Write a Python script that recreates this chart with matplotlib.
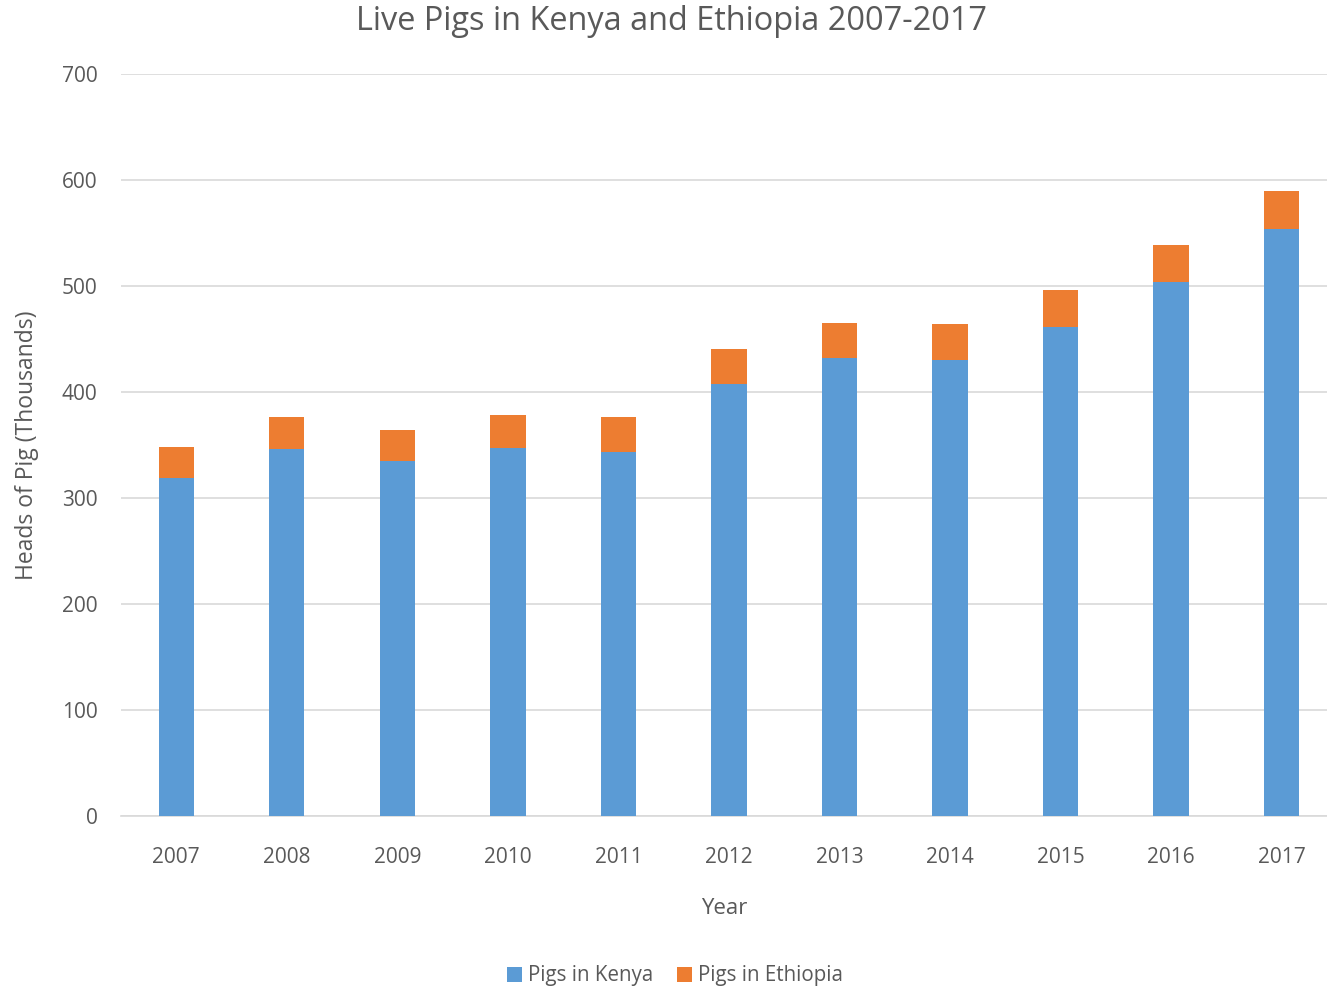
import matplotlib.pyplot as plt
import numpy as np

plt.rcParams['font.family'] = ['Open Sans', 'DejaVu Sans']

years = ['2007', '2008', '2009', '2010', '2011', '2012', '2013', '2014', '2015', '2016', '2017']
kenya = [319, 346, 335, 347, 343, 408, 432, 430, 461, 504, 554]
ethiopia = [29, 30, 29, 31, 33, 33, 33, 34, 35, 35, 36]

blue = '#5B9BD5'
orange = '#ED7D31'
txt = '#595959'

fig = plt.figure(figsize=(13.27, 9.9), dpi=100)
ax = fig.add_axes([121 / 1327, 1 - 816 / 990, 1 - 121 / 1327, (816 - 74) / 990])

x = np.arange(len(years))
w = 0.32
ax.bar(x, kenya, w, color=blue, label='Pigs in Kenya', zorder=3)
ax.bar(x, ethiopia, w, bottom=kenya, color=orange, label='Pigs in Ethiopia', zorder=3)

ax.set_xlim(-0.5, 10.41)
ax.set_ylim(0, 700)
ax.set_yticks(range(0, 701, 100))
ax.set_xticks(x)
ax.set_xticklabels(years)
ax.grid(axis='y', color='#d9d9d9', linewidth=1.2, zorder=0)
for s in ['top', 'right', 'left']:
    ax.spines[s].set_visible(False)
ax.spines['bottom'].set_color('#d9d9d9')
ax.spines['bottom'].set_linewidth(1.2)
ax.tick_params(length=0, labelsize=15, labelcolor=txt)
ax.tick_params(axis='x', pad=22)
ax.tick_params(axis='y', pad=17)

ax.set_xlabel('Year', fontsize=16, color=txt, labelpad=22)
ax.set_ylabel('Heads of Pig (Thousands)', fontsize=16.5, color=txt, labelpad=16)
fig.text(671 / 1327, 1 - 21 / 990, 'Live Pigs in Kenya and Ethiopia 2007-2017', ha='center', va='center',
         fontsize=23.4, color=txt)

fig.legend(loc='center', bbox_to_anchor=(675 / 1327, 1 - 976 / 990), ncol=2, frameon=False,
           fontsize=14.8, labelcolor=txt, handlelength=0.7, handleheight=0.7,
           handletextpad=0.3, columnspacing=1.2)

fig.savefig('out.png', dpi=100)
